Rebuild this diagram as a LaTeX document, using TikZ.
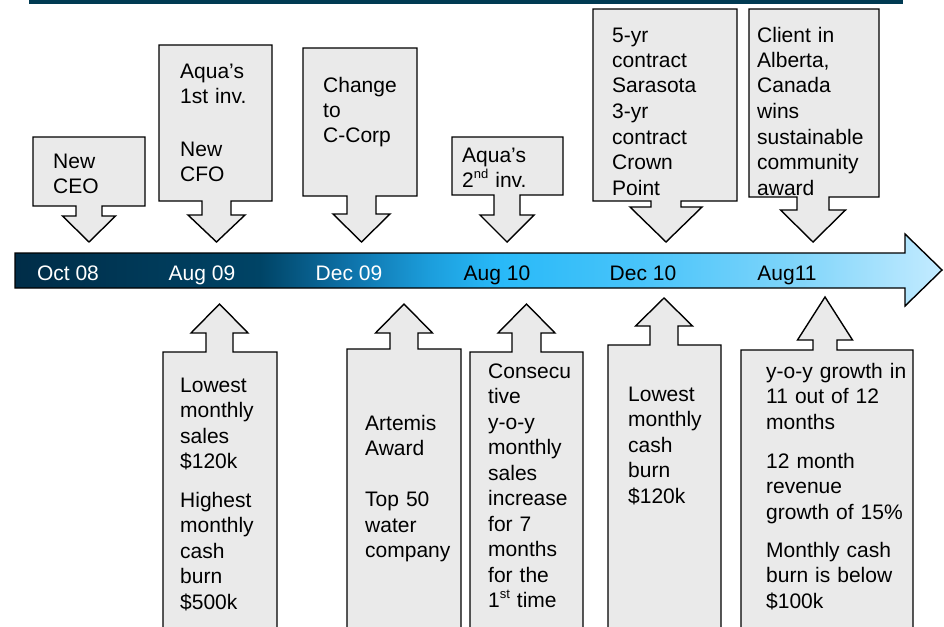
\documentclass[tikz,border=0pt]{standalone}
\usepackage{fontspec}
\setmainfont{Liberation Sans}
\usepackage{tikz}
\usetikzlibrary{positioning}

\definecolor{topbar}{RGB}{0,58,82}
\definecolor{calloutfill}{RGB}{234,234,234}
\definecolor{tlA}{RGB}{0,45,72}
\definecolor{tlB}{RGB}{0,68,102}
\definecolor{tlC}{RGB}{14,115,170}
\definecolor{tlD}{RGB}{28,158,220}
\definecolor{tlE}{RGB}{40,185,248}
\definecolor{tlF}{RGB}{72,196,250}
\definecolor{tlG}{RGB}{125,212,250}
\definecolor{tlH}{RGB}{195,235,255}

\pgfdeclarehorizontalshading{timeline}{100bp}{color(0bp)=(tlA); color(25bp)=(tlA);
  color(38.2bp)=(tlB); color(43.1bp)=(tlC); color(47.4bp)=(tlD); color(51bp)=(tlE);
  color(58.7bp)=(tlF); color(66.8bp)=(tlG); color(75bp)=(tlH); color(100bp)=(tlH)}

\newcommand{\supr}[1]{\raisebox{0.42em}{\fontsize{13}{13}\selectfont #1}}

\begin{document}
\begin{tikzpicture}[x=1pt, y=-1pt,
  callout/.style={draw=black, fill=calloutfill, line width=1.4pt},
  event text/.style={anchor=base west, inner sep=0pt, text width=180pt, align=left,
    font=\fontsize{21}{25.5}\selectfont},
  date label/.style={anchor=base, inner sep=0pt, font=\fontsize{21}{25}\selectfont}]

\useasboundingbox (0,0) rectangle (944,626);
\clip (0,0) rectangle (944,626);

% Thanh phía trên
\fill [topbar] (29,-4) rectangle (903,4);

% Trục thời gian
\shadedraw [shading=timeline, line width=1.4pt]
  (15,253) -- (905,253) -- (905,234) -- (942,270) -- (905,306) -- (905,288) -- (15,288) -- cycle;

\foreach \d/\x/\c [count=\i] in {Oct 08/68/white, Aug 09/202/white, Dec 09/349/white,
    Aug 10/497/black, Dec 10/643/black, Aug11/787/black}
  \node [date label, text=\c] (date-\i) at (\x,280) {\d};

% Các hộp mũi tên: trên chỉ xuống, dưới chỉ lên
\foreach \xl/\xr/\ya/\yb/\xc/\ws/\wh/\yh/\yt in {
    33/145/137/206/89/13/26.5/216/242,
    159/272/45/201/216.5/14.5/28.5/215/242,
    303/417/48/196/361.5/14.5/28.5/214/242,
    452/563/137/195/507/13/27/215/242,
    593/737/9/201/666/15/36/207/242,
    749/879/9/197/813/16/32.5/210/242,
    163/277/640/352/219.5/13.5/28.5/333/304,
    347/461/640/349/404/14/28.5/333/304,
    470/583/640/352/526.5/14.5/28.5/333/304,
    608/721/640/345/664/14/28.5/326/298,
    741/913/640/350/825/12/27.5/340/297}
  \draw [callout] (\xl,\ya) -- (\xr,\ya) -- (\xr,\yb) -- ({\xc+\ws},\yb) -- ({\xc+\ws},\yh)
    -- ({\xc+\wh},\yh) -- (\xc,\yt) -- ({\xc-\wh},\yh) -- ({\xc-\ws},\yh) -- ({\xc-\ws},\yb)
    -- (\xl,\yb) -- cycle;

% Chữ trong các hộp phía trên
\node [event text] (top-1) at (53,168) {New\\CEO};
\node [event text] (top-2) at (180,78) {Aqua’s\\1st inv.\\[27pt]New\\CFO};
\node [event text] (top-3) at (323,92) {Change\\to\\C-Corp};
\node [event text] (top-4) at (462,162) {Aqua’s\\2\supr{nd} inv.};
\node [event text] (top-5) at (612,42) {5-yr\\contract\\Sarasota\\3-yr\\contract\\Crown\\Point};
\node [event text] (top-6) at (757,42) {Client in\\Alberta,\\Canada\\wins\\sustainable\\community\\award};

% Chữ trong các hộp phía dưới
\node [event text] (bot-1) at (180,392) {Lowest\\monthly\\sales\\\$120k\\[13pt]Highest\\monthly\\cash\\burn\\\$500k};
\node [event text] (bot-2) at (365,430) {Artemis\\Award\\[25.5pt]Top 50\\water\\company};
\node [event text] (bot-3) at (488,378) {Consecu\\tive\\y-o-y\\monthly\\sales\\increase\\for 7\\months\\for the\\1\supr{st} time};
\node [event text] (bot-4) at (628,401) {Lowest\\monthly\\cash\\burn\\\$120k};
\node [event text] (bot-5) at (766,378) {y-o-y growth in\\11 out of 12\\months\\[13.5pt]12 month\\revenue\\growth of 15\%\\[12.5pt]Monthly cash\\burn is below\\\$100k};

\end{tikzpicture}
\end{document}
